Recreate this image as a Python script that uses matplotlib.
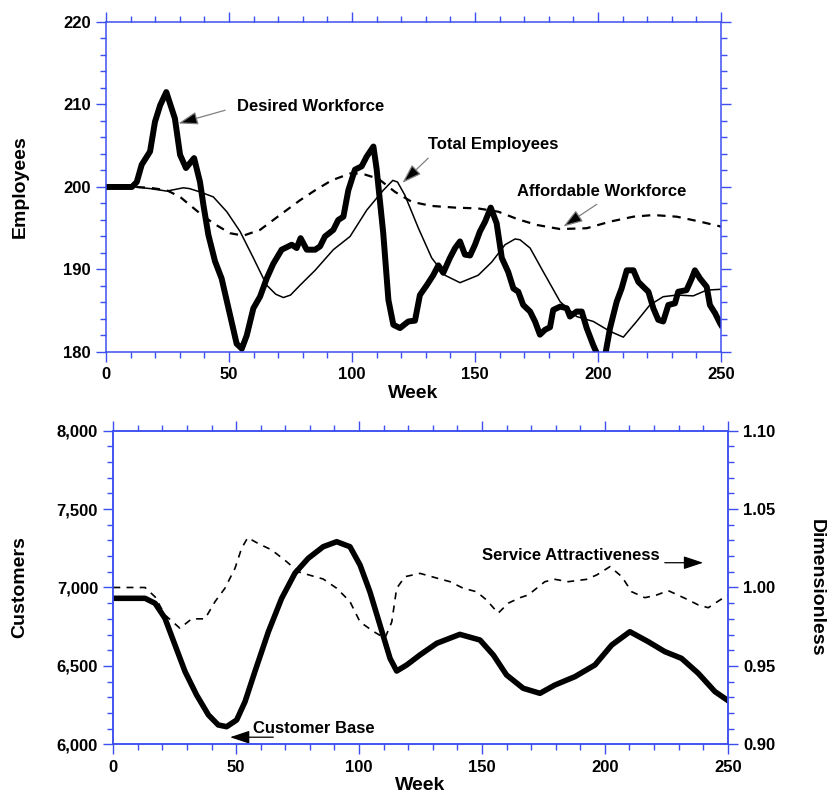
import matplotlib
matplotlib.use("Agg")
import matplotlib.pyplot as plt
from matplotlib.ticker import MultipleLocator, FuncFormatter

plt.rcParams['font.family'] = ['Liberation Sans', 'DejaVu Sans']
plt.rcParams['font.weight'] = 'bold'
plt.rcParams['lines.scale_dashes'] = False

BLUE = "#3d4ff0"

# ---- top panel data (weeks, employees) ----
desired_wk = [0, 10.5, 12.5, 14.5, 17.9, 19.9, 22, 24.5, 28, 30.1, 32.5, 35.8, 38.2, 39.6,
              41.6, 44.3, 47, 50.4, 53.1, 55.2, 57.2, 59.9, 62.6, 65.3, 68, 71.4, 75.5,
              77.5, 79.1, 81.6, 85, 87, 89, 92.4, 94.4, 96.5, 98.5, 101.2, 103.9, 106,
              108.7, 110, 112.7, 114.8, 116.8, 119.5, 122.9, 125.6, 127.6, 130.4, 133,
              135.1, 137.1, 139.8, 141.9, 143.9, 145.9, 148, 150, 152, 154.1, 156.4,
              158.8, 160.9, 163.5, 165.6, 167.6, 169.6, 172.4, 174.4, 176.4, 178.5,
              180.5, 181.8, 184.6, 187.3, 188.6, 191.3, 193.4, 195.4, 198.1, 200.2,
              202.8, 204.9, 207.6, 209.6, 211.7, 214.4, 216.4, 219.1, 220.5, 222.5,
              224.5, 226.5, 228.6, 231.3, 232.6, 236, 238.1, 239.4, 241.5, 244.2,
              245.5, 247.6, 249.6, 250]
desired_val = [200, 200, 200.6, 202.7, 204.3, 207.9, 209.9, 211.5, 208.3, 203.9, 202.3,
               203.5, 200.6, 197.8, 194.2, 191, 188.9, 184.5, 181, 180.4, 182, 185.3,
               186.7, 188.9, 190.7, 192.4, 193, 192.6, 193.8, 192.4, 192.4, 192.8, 194,
               194.8, 196, 196.4, 199.6, 202.1, 202.5, 203.7, 204.9, 202.2, 194.4,
               186.3, 183.3, 182.9, 183.7, 183.8, 186.9, 188.1, 189.3, 190.5, 189.6,
               191.4, 192.6, 193.4, 191.8, 191.7, 193, 194.6, 195.8, 197.5, 195.6,
               191.4, 189.7, 187.7, 187.3, 185.7, 184.9, 183.7, 182.1, 182.7, 183,
               185.1, 185.5, 185.3, 184.3, 184.9, 184.9, 182.9, 180.8, 179.4, 179.4,
               182.9, 186.1, 187.7, 189.9, 189.9, 188.5, 187.7, 187.3, 185.3, 183.9,
               183.7, 185.7, 185.9, 187.3, 187.5, 188.9, 189.9, 188.9, 187.9, 185.7,
               184.7, 183.5, 183.3]

total_wk = [0, 12, 18, 24.7, 31.4, 34, 38.2, 43.6, 49.1, 54.5, 59.9, 65.3, 69, 72.1, 75,
            78.9, 85, 92.4, 99.2, 106, 112.7, 116.6, 118.5, 121.5, 127, 132.4, 137.8,
            143.9, 151.3, 156.8, 162.2, 166.3, 168.3, 172.4, 177.8, 184.6, 191.3, 198.1,
            204.9, 210.3, 215.7, 221.1, 226.5, 232, 238.7, 244.2, 250]
total_val = [200, 200, 199.8, 199.5, 199.9, 199.8, 199.4, 198.8, 197, 194.6, 191.4,
             188.1, 187, 186.6, 186.9, 188.1, 189.9, 192.4, 194, 197.2, 199.6, 200.8,
             200.6, 199, 195, 191.4, 189.3, 188.4, 189.3, 190.9, 193, 193.7, 193.6,
             192.6, 189.7, 186.1, 184.3, 183.7, 182.5, 181.8, 183.7, 185.7, 186.7,
             186.9, 186.8, 187.5, 187.6]

afford_wk = [0, 12, 17.9, 24.7, 30.1, 34.1, 38.2, 43.6, 50.4, 55.8, 62.6, 70.7, 78.9, 85,
             91.7, 99.9, 105.3, 110.7, 117.5, 124.3, 132.4, 141.9, 151.3, 159.5, 167.3,
             175.1, 184.6, 195.4, 204.9, 214.4, 222.5, 232, 241.5, 250]
afford_val = [200, 200, 199.9, 199.6, 198.8, 197.8, 196.8, 195.6, 194.4, 194.1, 194.8,
              196.6, 198.4, 199.6, 200.8, 201.7, 201.5, 201, 199.4, 198.2, 197.7, 197.5,
              197.4, 197, 196.1, 195.4, 194.9, 195, 195.8, 196.4, 196.6, 196.4, 195.8,
              195.2]

# ---- bottom panel data ----
cust_wk = [0, 12.9, 17, 21, 25.1, 29.2, 33.9, 38.7, 42.7, 46.1, 50.2, 53.6, 57.6, 63.1,
           68.5, 73.9, 79.3, 85.4, 90.9, 96.3, 100.4, 104.4, 108.5, 112.6, 115.3, 119.4,
           124.8, 131.6, 141, 149.2, 154.6, 160, 166.8, 173.6, 179.7, 187.8, 196, 202.8,
           210.2, 217.7, 224.4, 231.2, 238, 244.8, 250]
cust_val = [6931, 6931, 6899, 6804, 6633, 6463, 6314, 6187, 6123, 6112, 6155, 6272, 6463,
            6718, 6931, 7091, 7186, 7260, 7292, 7260, 7143, 6973, 6761, 6548, 6467, 6506,
            6570, 6644, 6701, 6665, 6570, 6442, 6357, 6325, 6378, 6431, 6506, 6633, 6718,
            6654, 6591, 6548, 6453, 6336, 6280]

serv_wk = [0, 12.9, 17, 21, 27.1, 31.9, 37.3, 41.4, 45.4, 49.5, 52.2, 54.7, 59, 64.4,
           70.5, 75.3, 80.7, 85.4, 90.9, 96.3, 100.4, 105.8, 110.5, 113.3, 115.3, 118.7,
           124.8, 131.6, 137, 142.4, 147.8, 151.9, 156.6, 160.7, 165.5, 168.8, 175.6,
           179.7, 185.1, 192.6, 196.7, 202.1, 206.9, 210.9, 216.3, 221.1, 225.8, 232.6,
           238, 242.1, 248.9, 250]
serv_val = [1.0, 1.0, 0.994, 0.9825, 0.974, 0.980, 0.980, 0.991, 0.9995, 1.0122, 1.025,
            1.0318, 1.028, 1.024, 1.0165, 1.010, 1.0075, 1.0054, 0.9995, 0.991, 0.978,
            0.972, 0.9676, 0.978, 0.9995, 1.0069, 1.009, 1.006, 1.0037, 0.9995, 0.9973,
            0.992, 0.9836, 0.990, 0.9935, 0.9952, 1.0037, 1.0052, 1.0037, 1.0052, 1.008,
            1.0133, 1.0069, 0.9973, 0.9935, 0.9952, 0.998, 0.9931, 0.9889, 0.9871,
            0.9941, 0.995]


def style_axes(ax, sides):
    for s in ['left', 'right', 'top', 'bottom']:
        ax.spines[s].set_color(BLUE)
        ax.spines[s].set_linewidth(1.1)
    ax.tick_params(which='both', direction='out', color=BLUE, width=1.0,
                   labelsize=12, **sides)
    ax.tick_params(which='major', length=7, pad=4)
    ax.tick_params(which='minor', length=4)


fig = plt.figure(figsize=(8.29, 7.96), dpi=100)

# top panel
ax1 = fig.add_axes([0.1279, 0.5578, 0.7418, 0.4146])
ax1.plot(desired_wk, desired_val, color='black', lw=4.3, solid_joinstyle='round')
ax1.plot(total_wk, total_val, color='black', lw=1.1)
ax1.plot(afford_wk, afford_val, color='black', lw=1.6, dashes=(6, 5))
ax1.set_xlim(0, 250)
ax1.set_ylim(180, 220)
ax1.xaxis.set_major_locator(MultipleLocator(50))
ax1.xaxis.set_minor_locator(MultipleLocator(10))
ax1.yaxis.set_major_locator(MultipleLocator(10))
ax1.yaxis.set_minor_locator(MultipleLocator(2))
style_axes(ax1, dict(top=True, right=True, bottom=True, left=True))

ax1.text(53.3, 209.8, "Desired Workforce", fontsize=12, va='center')
ax1.text(130.9, 205.1, "Total Employees", fontsize=12, va='center')
ax1.text(166.9, 199.45, "Affordable Workforce", fontsize=12, va='center')
arrow = dict(arrowstyle='-|>,head_length=0.6,head_width=0.2', mutation_scale=20,
             fc='black', ec='0.5', lw=0.9, shrinkA=0, shrinkB=0)
ax1.annotate('', xy=(29.4, 207.7), xytext=(48.4, 209.3), arrowprops=arrow)
ax1.annotate('', xy=(120.5, 200.5), xytext=(131, 203.5), arrowprops=arrow)
ax1.annotate('', xy=(185.9, 195.2), xytext=(199.5, 197.9), arrowprops=arrow)

fig.text(20 / 829, 1 - 187 / 796, "Employees", rotation=90, fontsize=14,
         ha='center', va='center')
fig.text(413.5 / 829, 1 - 394 / 796, "Week", fontsize=14, ha='center', va='center')

# bottom panel
ax2 = fig.add_axes([0.1367, 0.0650, 0.7411, 0.3939])
ax2.plot(cust_wk, cust_val, color='black', lw=4.0, solid_joinstyle='round')
ax2.set_xlim(0, 250)
ax2.set_ylim(6000, 8000)
ax2.xaxis.set_major_locator(MultipleLocator(50))
ax2.xaxis.set_minor_locator(MultipleLocator(10))
ax2.yaxis.set_major_locator(MultipleLocator(500))
ax2.yaxis.set_minor_locator(MultipleLocator(100))
ax2.yaxis.set_major_formatter(FuncFormatter(lambda v, p: f"{v:,.0f}"))
style_axes(ax2, dict(top=True, right=False, bottom=True, left=True))

ax3 = ax2.twinx()
ax3.plot(serv_wk, serv_val, color='black', lw=1.2, dashes=(5, 4.5))
ax3.set_ylim(0.90, 1.10)
ax3.yaxis.set_major_locator(MultipleLocator(0.05))
ax3.yaxis.set_minor_locator(MultipleLocator(0.01))
ax3.yaxis.set_major_formatter(FuncFormatter(lambda v, p: f"{v:.2f}"))
style_axes(ax3, dict(top=False, right=True, bottom=False, left=False))

ax2.text(56.8, 6101, "Customer Base", fontsize=12, va='center')
ax3.text(149.9, 1.0207, "Service Attractiveness", fontsize=12, va='center')
arrow2 = dict(arrowstyle='-|>,head_length=0.6,head_width=0.2', mutation_scale=20,
              fc='black', ec='black', lw=0.9, shrinkA=0, shrinkB=0)
ax2.annotate('', xy=(47.5, 6045), xytext=(65.1, 6045), arrowprops=arrow2)
ax3.annotate('', xy=(240, 1.0158), xytext=(224.4, 1.0158), arrowprops=arrow2)

fig.text(20 / 829, 1 - 587.5 / 796, "Customers", rotation=90, fontsize=14,
         ha='center', va='center')
fig.text(816 / 829, 1 - 587.5 / 796, "Dimensionless", rotation=270, fontsize=14,
         ha='center', va='center')
fig.text(420.5 / 829, 1 - 785 / 796, "Week", fontsize=14, ha='center', va='center')

fig.savefig("out.png", dpi=100)
